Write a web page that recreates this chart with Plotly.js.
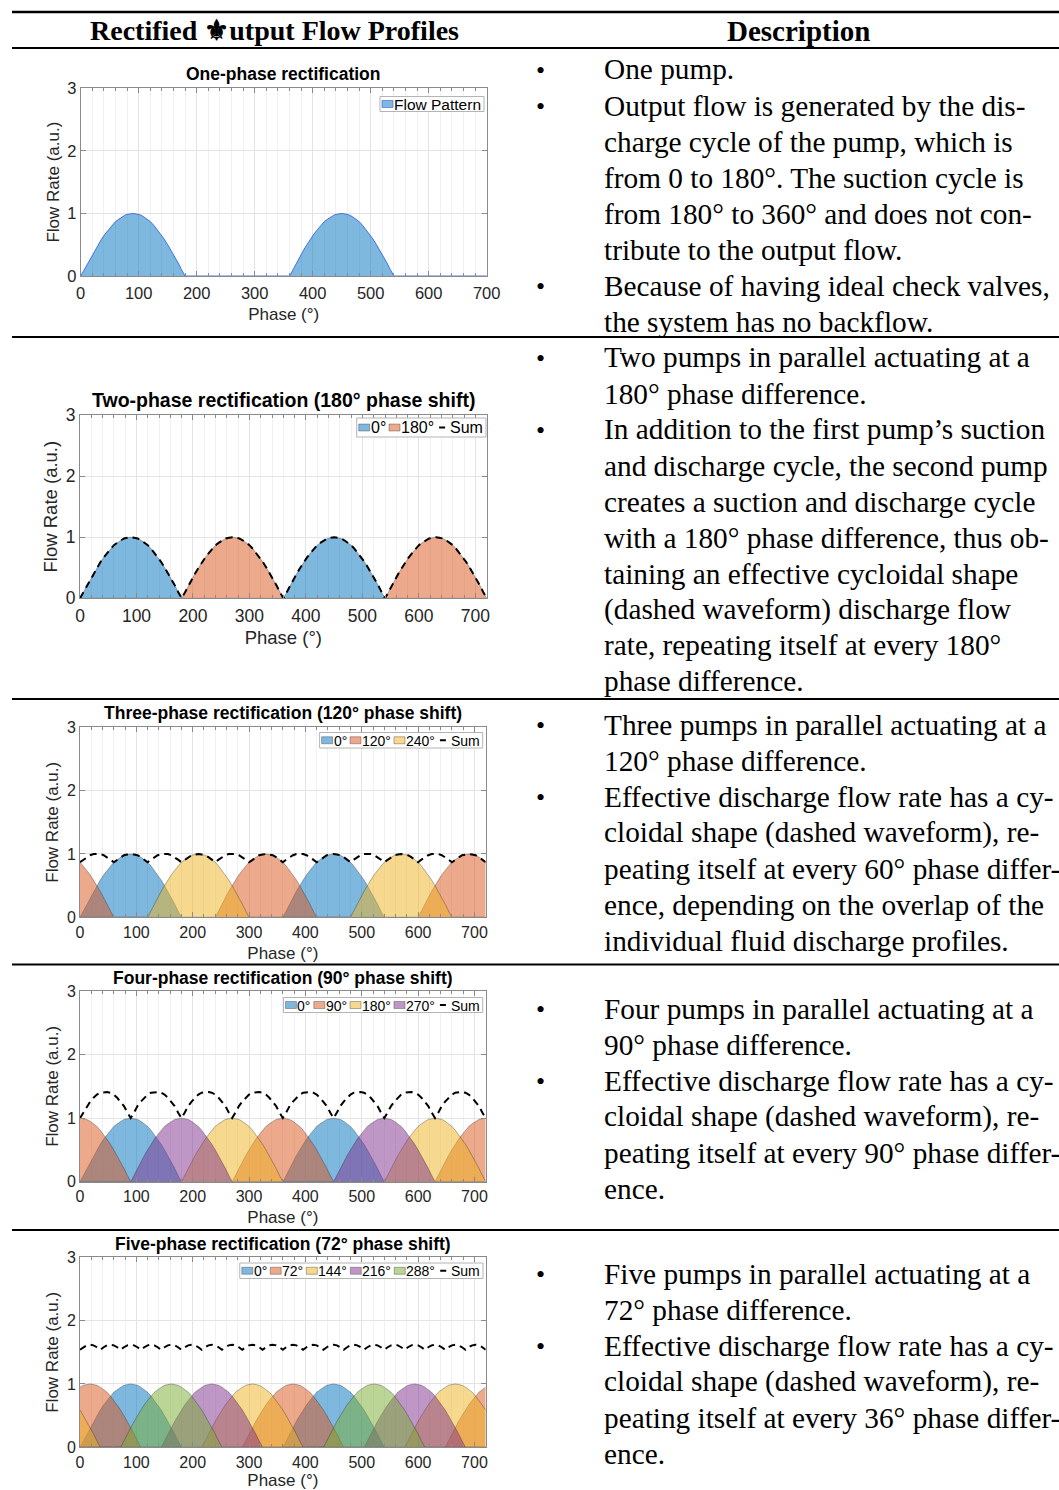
<!DOCTYPE html>
<html><head><meta charset="utf-8">
<script src="https://cdn.plot.ly/plotly-3.0.1.min.js"></script>
<style>html,body{margin:0;padding:0;background:#fff}#chart{width:1059px;height:1490px}</style>
</head><body><div id="chart"></div>
<script>
// ---------------- data ----------------
// one discharge hump of a pump, sampled every 6° from 0° to 180°
const humpProfile = [0,0.10,0.21,0.31,0.41,0.50,0.59,0.67,0.74,0.81,0.87,0.91,0.95,0.98,0.99,1.00,0.99,0.98,0.95,0.91,0.87,0.81,0.74,0.67,0.59,0.50,0.41,0.31,0.21,0.10,0];
const dischargeSpanDeg = 180;
const cycleDeg = 360;
const phaseMaxDeg = 720;

const phases1 = [0];
const phases2 = [0, 180];
const phases3 = [0, 120, 240];
const phases4 = [0, 90, 180, 270];
const phases5 = [0, 72, 144, 216, 288];

const labels1 = ['Flow Pattern'];
const labels2 = ['0°', '180°'];
const labels3 = ['0°', '120°', '240°'];
const labels4 = ['0°', '90°', '180°', '270°'];
const labels5 = ['0°', '72°', '144°', '216°', '288°'];
const sumLabel = 'Sum';

const chartTitles = [
  'One-phase rectification',
  'Two-phase rectification (180° phase shift)',
  'Three-phase rectification (120° phase shift)',
  'Four-phase rectification (90° phase shift)',
  'Five-phase rectification (72° phase shift)'
];
const xTitle = 'Phase (°)';
const yTitle = 'Flow Rate (a.u.)';

const headerLeft = 'Rectified ⚜utput Flow Profiles';
const headerRight = 'Description';

const descRows = [
  [[1,'One pump.'],[1,'Output flow is generated by the dis-'],[0,'charge cycle of the pump, which is'],[0,'from 0 to 180°. The suction cycle is'],[0,'from 180° to 360° and does not con-'],[0,'tribute to the output flow.'],[1,'Because of having ideal check valves,'],[0,'the system has no backflow.']],
  [[1,'Two pumps in parallel actuating at a'],[0,'180° phase difference.'],[1,'In addition to the first pump’s suction'],[0,'and discharge cycle, the second pump'],[0,'creates a suction and discharge cycle'],[0,'with a 180° phase difference, thus ob-'],[0,'taining an effective cycloidal shape'],[0,'(dashed waveform) discharge flow'],[0,'rate, repeating itself at every 180°'],[0,'phase difference.']],
  [[1,'Three pumps in parallel actuating at a'],[0,'120° phase difference.'],[1,'Effective discharge flow rate has a cy-'],[0,'cloidal shape (dashed waveform), re-'],[0,'peating itself at every 60° phase differ-'],[0,'ence, depending on the overlap of the'],[0,'individual fluid discharge profiles.']],
  [[1,'Four pumps in parallel actuating at a'],[0,'90° phase difference.'],[1,'Effective discharge flow rate has a cy-'],[0,'cloidal shape (dashed waveform), re-'],[0,'peating itself at every 90° phase differ-'],[0,'ence.']],
  [[1,'Five pumps in parallel actuating at a'],[0,'72° phase difference.'],[1,'Effective discharge flow rate has a cy-'],[0,'cloidal shape (dashed waveform), re-'],[0,'peating itself at every 36° phase differ-'],[0,'ence.']]
];

const pumpColors = ['#0072BD', '#D95319', '#EDB120', '#7E2F8E', '#77AC30'];

// ---------------- helpers ----------------
const W = 1059, H = 1490;
const X = v => v / W, Y = v => 1 - v / H;
const SANS = '"Liberation Sans", Arial, Helvetica, sans-serif';
const SERIF = '"Liberation Serif", "Times New Roman", serif';
const ctx = document.createElement('canvas').getContext('2d');
function textW(s, size) { ctx.font = size + 'px "Liberation Sans"'; return ctx.measureText(s).width; }
function rgba(hex, a) { const n = parseInt(hex.slice(1), 16); return `rgba(${n >> 16},${(n >> 8) & 255},${n & 255},${a})`; }

const step = dischargeSpanDeg / (humpProfile.length - 1);
const phaseGrid = [];
for (let i = 0; i * step <= phaseMaxDeg; i++) phaseGrid.push(i * step);
function pumpSeries(p) {
  return phaseGrid.map(x => {
    const a = ((x + p) % cycleDeg + cycleDeg) % cycleDeg;
    return a <= dischargeSpanDeg ? humpProfile[Math.round(a / step)] : 0;
  });
}

const charts = [
  {phases: phases1, labels: labels1, xRange: [0, 700], box: {l: 80.7, r: 486.7, t: 88.3, b: 276}, titleY: 74, tfs: 17.5, fs: 16.5, lfs: 17, tso: 2, xso: 7, leg: {r: 484, t: 96.5, b: 111.5, fs: 15.5}, sum: false},
  {phases: phases2, labels: labels2, xRange: [0, 720], box: {l: 80, r: 486.7, t: 415, b: 598.3}, titleY: 400, tfs: 19.5, fs: 17.5, lfs: 18.5, tso: 2, xso: 5, leg: {r: 486, t: 418, b: 437, fs: 16}, sum: true},
  {phases: phases3, labels: labels3, xRange: [0, 720], box: {l: 80, r: 485.7, t: 727.3, b: 917.3}, titleY: 713, tfs: 17.5, fs: 16, lfs: 17, tso: 0, xso: 7, leg: {r: 482.7, t: 732.5, b: 748, fs: 14}, sum: true},
  {phases: phases4, labels: labels4, xRange: [0, 720], box: {l: 80, r: 485.7, t: 991, b: 1181.7}, titleY: 978, tfs: 17.5, fs: 16, lfs: 17, tso: 0, xso: 7, leg: {r: 482.7, t: 997.5, b: 1012.5, fs: 14}, sum: true},
  {phases: phases5, labels: labels5, xRange: [0, 720], box: {l: 80, r: 485.7, t: 1257.3, b: 1447.3}, titleY: 1244, tfs: 17.5, fs: 16, lfs: 17, tso: 0, xso: 8, leg: {r: 483, t: 1263, b: 1278.5, fs: 14}, sum: true}
];

const traces = [];
const shapes = [];
const annotations = [];
const layout = {
  width: W, height: H, margin: {l: 0, r: 0, t: 0, b: 0},
  paper_bgcolor: '#fff', plot_bgcolor: '#fff', showlegend: false,
  font: {family: SANS, color: '#262626'}, hovermode: false
};

charts.forEach((c, i) => {
  const sfx = i ? String(i + 1) : '';
  const xa = 'x' + sfx, ya = 'y' + sfx;
  const series = c.phases.map(p => pumpSeries(p));
  series.forEach((ys, j) => {
    traces.push({
      type: 'scatter', mode: 'lines', x: phaseGrid, y: ys, xaxis: xa, yaxis: ya,
      fill: 'tozeroy', fillcolor: rgba(pumpColors[j], 0.5),
      line: {color: i === 0 ? 'rgba(50,95,225,0.85)' : 'rgba(40,40,40,0.5)', width: i === 0 ? 1 : 0.7},
      name: c.labels[j]
    });
  });
  if (c.sum) {
    const total = phaseGrid.map((_, k) => series.reduce((s, ys) => s + ys[k], 0));
    traces.push({type: 'scatter', mode: 'lines', x: phaseGrid, y: total, xaxis: xa, yaxis: ya,
      line: {color: '#000', width: 2, dash: '7px,5px'}, name: sumLabel});
  }
  const axCommon = {
    ticks: 'inside', ticklen: 5, tickwidth: 1, tickcolor: '#8a8a8a',
    showline: true, linecolor: '#8a8a8a', linewidth: 1, mirror: 'ticks',
    showgrid: true, gridcolor: '#e4e4e4', gridwidth: 1, zeroline: false,
    tickfont: {family: SANS, size: c.fs, color: '#262626'},
    automargin: false, fixedrange: true
  };
  layout['xaxis' + sfx] = Object.assign({}, axCommon, {
    domain: [X(c.box.l), X(c.box.r)], range: c.xRange, anchor: ya, dtick: 100, tick0: 0,
    minor: {dtick: 20, tick0: 0, ticks: 'inside', ticklen: 3, tickcolor: '#8a8a8a', showgrid: true, gridcolor: '#f1f1f1'},
    ticklabelstandoff: c.tso,
    title: {text: xTitle, font: {family: SANS, size: c.lfs, color: '#262626'}, standoff: c.xso}
  });
  layout['yaxis' + sfx] = Object.assign({}, axCommon, {
    domain: [Y(c.box.b), Y(c.box.t)], range: [0, 3], anchor: xa, dtick: 1, tick0: 0,
    title: {text: yTitle, font: {family: SANS, size: c.lfs, color: '#262626'}, standoff: 3}
  });
  annotations.push({xref: 'paper', yref: 'paper', x: X((c.box.l + c.box.r) / 2), y: Y(c.titleY),
    xanchor: 'center', yanchor: 'middle', showarrow: false, borderpad: 0,
    text: '<b>' + chartTitles[i] + '</b>', font: {family: SANS, size: c.tfs, color: '#000'}});

  // legend box (drawn by hand to match the compact MATLAB legend)
  const L = c.leg, fs = L.fs;
  const items = c.labels.map((s, j) => ({kind: 'fill', color: pumpColors[j], text: s}));
  if (c.sum) items.push({kind: 'line', text: sumLabel});
  const symW = 11, gapT = 1, gapItem = 3, lineW = 12;
  let totalW = 0;
  items.forEach(it => { it.w = (it.kind === 'fill' ? symW : lineW) + gapT + textW(it.text, fs); totalW += it.w; });
  totalW += gapItem * (items.length - 1);
  const x0 = L.r - 3 - totalW, cy = (L.t + L.b) / 2;
  shapes.push({type: 'rect', xref: 'paper', yref: 'paper', x0: X(x0 - 2), x1: X(L.r), y0: Y(L.b), y1: Y(L.t),
    line: {color: '#b4b4b4', width: 1}, fillcolor: '#fff', layer: 'above'});
  let x = x0;
  items.forEach(it => {
    if (it.kind === 'fill') {
      shapes.push({type: 'rect', xref: 'paper', yref: 'paper', x0: X(x), x1: X(x + symW), y0: Y(cy + 3.5), y1: Y(cy - 3.5),
        line: {color: i === 0 ? 'rgba(50,95,225,0.85)' : 'rgba(40,40,40,0.5)', width: 0.7}, fillcolor: rgba(it.color, 0.5), layer: 'above'});
      x += symW + gapT;
    } else {
      shapes.push({type: 'line', xref: 'paper', yref: 'paper', x0: X(x + 2), x1: X(x + 8), y0: Y(cy), y1: Y(cy),
        line: {color: '#000', width: 2}, layer: 'above'});
      x += lineW + gapT;
    }
    annotations.push({xref: 'paper', yref: 'paper', x: X(x - 1), y: Y(cy + 0.5), xanchor: 'left', yanchor: 'middle',
      showarrow: false, borderpad: 0, text: it.text, font: {family: SANS, size: fs, color: '#000'}});
    x += textW(it.text, fs) + gapItem;
  });
});

// table rules
[[12, 2.6], [48, 1.8], [337, 1.8], [699, 1.8], [964.5, 1.8], [1230, 1.8]].forEach(([y, w]) => {
  shapes.push({type: 'line', xref: 'paper', yref: 'paper', x0: X(12), x1: 1, y0: Y(y), y1: Y(y),
    line: {color: '#000', width: w}, layer: 'above'});
});

// header
annotations.push({xref: 'paper', yref: 'paper', x: X(274), y: Y(31), xanchor: 'center', yanchor: 'middle', showarrow: false,
  text: '<b>' + headerLeft + '</b>', font: {family: SERIF, size: 28, color: '#000'}});
annotations.push({xref: 'paper', yref: 'paper', x: X(798), y: Y(31), xanchor: 'center', yanchor: 'middle', showarrow: false,
  text: '<b>' + headerRight + '</b>', font: {family: SERIF, size: 29, color: '#000'}});

// description column
const rowStartY = [70, 358, 725, 1009, 1274];
const lineGap = 36;
descRows.forEach((row, r) => {
  row.forEach(([bullet, txt], k) => {
    const y = rowStartY[r] + k * lineGap;
    if (bullet) annotations.push({xref: 'paper', yref: 'paper', x: X(540), y: Y(y), xanchor: 'center', yanchor: 'middle',
      showarrow: false, text: '•', font: {family: SERIF, size: 26, color: '#000'}});
    annotations.push({xref: 'paper', yref: 'paper', x: X(603), y: Y(y - 0.5), xanchor: 'left', yanchor: 'middle',
      showarrow: false, borderpad: 0, text: txt, font: {family: SERIF, size: 29.3, color: '#000'}});
  });
});

layout.shapes = shapes;
layout.annotations = annotations;
Plotly.newPlot('chart', traces, layout, {staticPlot: true, displayModeBar: false});
</script></body></html>
